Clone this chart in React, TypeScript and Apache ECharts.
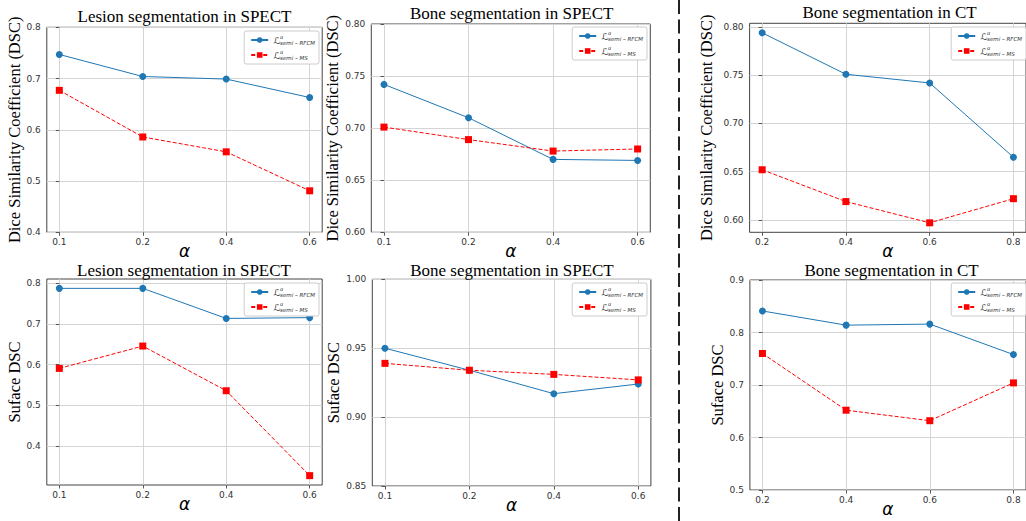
import React, { useEffect, useRef } from 'react';
import * as echarts from 'echarts';

// ---- data ----
const spectAlpha = ['0.1', '0.2', '0.4', '0.6'];
const ctAlpha = ['0.2', '0.4', '0.6', '0.8'];

const lesionDscRFCM = [0.747, 0.704, 0.699, 0.663];
const lesionDscMS = [0.677, 0.586, 0.557, 0.481];
const boneSpectDscRFCM = [0.742, 0.71, 0.67, 0.669];
const boneSpectDscMS = [0.701, 0.689, 0.678, 0.68];
const boneCtDscRFCM = [0.794, 0.751, 0.742, 0.665];
const boneCtDscMS = [0.652, 0.619, 0.597, 0.622];

const lesionSurfRFCM = [0.788, 0.788, 0.714, 0.716];
const lesionSurfMS = [0.591, 0.646, 0.536, 0.327];
const boneSpectSurfRFCM = [0.95, 0.934, 0.917, 0.924];
const boneSpectSurfMS = [0.939, 0.934, 0.931, 0.927];
const boneCtSurfRFCM = [0.841, 0.814, 0.816, 0.758];
const boneCtSurfMS = [0.76, 0.652, 0.632, 0.704];

const lesionDscTicks = [0.4, 0.5, 0.6, 0.7, 0.8];
const boneSpectDscTicks = [0.6, 0.65, 0.7, 0.75, 0.8];
const boneCtDscTicks = [0.6, 0.65, 0.7, 0.75, 0.8];
const lesionSurfTicks = [0.4, 0.5, 0.6, 0.7, 0.8];
const boneSpectSurfTicks = [0.85, 0.9, 0.95, 1.0];
const boneCtSurfTicks = [0.5, 0.6, 0.7, 0.8, 0.9];

const titles = [
  'Lesion segmentation in SPECT',
  'Bone segmentation in SPECT',
  'Bone segmentation in CT',
  'Lesion segmentation in SPECT',
  'Bone segmentation in SPECT',
  'Bone segmentation in CT',
];
const yNames = [
  'Dice Similarity Coefficient (DSC)',
  'Dice Similarity Coefficient (DSC)',
  'Dice Similarity Coefficient (DSC)',
  'Suface DSC',
  'Suface DSC',
  'Suface DSC',
];
const seriesNames = ['RFCM', 'MS'];

// ---- layout / styling ----
const panels = [
  { grid: { left: 46.8, top: 27.3, width: 275.4, height: 205 }, cats: spectAlpha, rf: lesionDscRFCM, ms: lesionDscMS, ticks: lesionDscTicks, min: 0.4, max: 0.8, dec: 1, gap: 21, legend: { right: 1026 - 319, top: 31 }, title: { x: 184.5, y: 8 } },
  { grid: { left: 371.3, top: 24, width: 279, height: 208.3 }, cats: spectAlpha, rf: boneSpectDscRFCM, ms: boneSpectDscMS, ticks: boneSpectDscTicks, min: 0.6, max: 0.8, dec: 2, gap: 24, legend: { right: 1026 - 647, top: 27 }, title: { x: 511.7, y: 5 } },
  { grid: { left: 749.6, top: 23.3, width: 279.8, height: 209 }, cats: ctAlpha, rf: boneCtDscRFCM, ms: boneCtDscMS, ticks: boneCtDscTicks, min: null, max: null, dec: 2, gap: 35, legend: { right: 0, top: 27 }, title: { x: 889.5, y: 4 } },
  { grid: { left: 46.8, top: 279, width: 275.4, height: 206 }, cats: spectAlpha, rf: lesionSurfRFCM, ms: lesionSurfMS, ticks: lesionSurfTicks, min: null, max: null, dec: 1, gap: 21, legend: { right: 1026 - 319, top: 283 }, title: { x: 184, y: 261.5 } },
  { grid: { left: 372.3, top: 279.3, width: 278.6, height: 206.7 }, cats: spectAlpha, rf: boneSpectSurfRFCM, ms: boneSpectSurfMS, ticks: boneSpectSurfTicks, min: 0.85, max: 1.0, dec: 2, gap: 25, legend: { right: 1026 - 647, top: 283 }, title: { x: 512, y: 261.5 } },
  { grid: { left: 749.9, top: 280, width: 281.2, height: 210 }, cats: ctAlpha, rf: boneCtSurfRFCM, ms: boneCtSurfMS, ticks: boneCtSurfTicks, min: 0.5, max: 0.9, dec: 1, gap: 21, legend: { right: 0, top: 283 }, title: { x: 891.5, y: 261.5 } },
];

const BLUE = '#1f77b4';
const RED = '#ff0000';
const GRIDC = '#d4d4d4';
const FRAME = '#444444';
const TICKC = '#333333';
const SERIF = 'Liberation Serif';

export default function App() {
  const ref = useRef<HTMLDivElement>(null);
  useEffect(() => {
    document.body.style.margin = '0';
    const chart = echarts.init(ref.current!, null, { renderer: 'svg' });

    const grid: any[] = [];
    const xAxis: any[] = [];
    const yAxis: any[] = [];
    const series: any[] = [];
    const legend: any[] = [];
    const title: any[] = [];

    panels.forEach((p, i) => {
      grid.push({ ...p.grid, show: true, borderColor: FRAME, borderWidth: 1, backgroundColor: 'transparent', containLabel: false });
      const idx = p.cats.map((_, k) => k);
      xAxis.push({
        type: 'value',
        gridIndex: i,
        min: -0.15,
        max: p.cats.length - 1 + 0.15,
        name: 'α',
        nameLocation: 'middle',
        nameGap: 12,
        nameMoveOverlap: false,
        nameTextStyle: { fontFamily: 'DejaVu Sans', fontStyle: 'italic', fontSize: 17, lineHeight: 13, color: '#000' },
        axisLine: { show: false },
        axisTick: { show: true, customValues: idx, length: 3.5, lineStyle: { color: TICKC, width: 0.8 } },
        axisLabel: {
          customValues: idx,
          margin: 5,
          fontSize: 9,
          fontFamily: 'DejaVu Sans',
          color: TICKC,
          formatter: (v: number) => p.cats[Math.round(v)] ?? '',
        },
        splitLine: { show: true, lineStyle: { color: GRIDC, width: 1 } },
      });
      yAxis.push({
        type: 'value',
        gridIndex: i,
        min: p.min != null ? p.min : (v: any) => v.min - 0.05 * (v.max - v.min),
        max: p.max != null ? p.max : (v: any) => v.max + 0.05 * (v.max - v.min),
        name: yNames[i],
        nameLocation: 'middle',
        nameGap: p.gap,
        nameTextStyle: { fontFamily: SERIF, fontSize: 16.5, color: '#000' },
        axisLine: { show: false },
        axisTick: { show: true, customValues: p.ticks, length: 3.5, lineStyle: { color: TICKC, width: 0.8 } },
        axisLabel: {
          customValues: p.ticks,
          margin: 6,
          fontSize: 9,
          fontFamily: 'DejaVu Sans',
          color: TICKC,
          formatter: (v: number) => v.toFixed(p.dec),
        },
        splitLine: { show: true, lineStyle: { color: GRIDC, width: 1 } },
      });
      series.push({
        name: seriesNames[0],
        type: 'line',
        xAxisIndex: i,
        yAxisIndex: i,
        data: p.rf.map((v, k) => [k, v]),
        symbol: 'circle',
        symbolSize: 7,
        itemStyle: { color: BLUE },
        lineStyle: { color: BLUE, width: 1 },
        z: 3,
      });
      series.push({
        name: seriesNames[1],
        type: 'line',
        xAxisIndex: i,
        yAxisIndex: i,
        data: p.ms.map((v, k) => [k, v]),
        symbol: 'rect',
        symbolSize: 7,
        itemStyle: { color: RED },
        lineStyle: { color: RED, width: 1, type: [4, 2] },
        z: 4,
      });
      legend.push({
        data: seriesNames,
        orient: 'vertical',
        right: p.legend.right,
        top: p.legend.top,
        itemWidth: 17,
        itemHeight: 7,
        itemGap: 3,
        padding: [3, 4, 3, 6],
        borderColor: '#cccccc',
        borderWidth: 1,
        borderRadius: 2,
        backgroundColor: '#ffffff',
        selectedMode: false,
        textStyle: {
          color: '#333',
          fontSize: 6,
          rich: {
            L: { fontSize: 9.5, fontFamily: 'DejaVu Sans', color: '#333', lineHeight: 12 },
            a: { fontSize: 5, fontStyle: 'italic', fontFamily: 'DejaVu Sans', color: '#333', verticalAlign: 'top', lineHeight: 6, width: 0 },
            s: { fontSize: 5.5, fontStyle: 'italic', fontFamily: 'DejaVu Sans', color: '#333', verticalAlign: 'bottom', lineHeight: 6.5 },
          },
        },
        formatter: (name: string) => '{L|ℒ}{a|α}{s|semi – ' + name + '}',
      });
      title.push({
        text: titles[i],
        left: p.title.x,
        top: p.title.y,
        textAlign: 'center',
        padding: 0,
        textStyle: { fontFamily: SERIF, fontSize: 17, fontWeight: 'normal', color: '#000' },
      });
    });

    chart.setOption({
      animation: false,
      backgroundColor: '#ffffff',
      title,
      grid,
      xAxis,
      yAxis,
      series,
      legend,
      graphic: [
        {
          type: 'line',
          shape: { x1: 679, y1: 0, x2: 679, y2: 521 },
          style: { stroke: '#222222', lineWidth: 2, lineDash: [14, 5.5] },
          silent: true,
        },
      ],
    });
    return () => chart.dispose();
  }, []);
  return <div ref={ref} style={{ width: 1026, height: 521 }} />;
}
